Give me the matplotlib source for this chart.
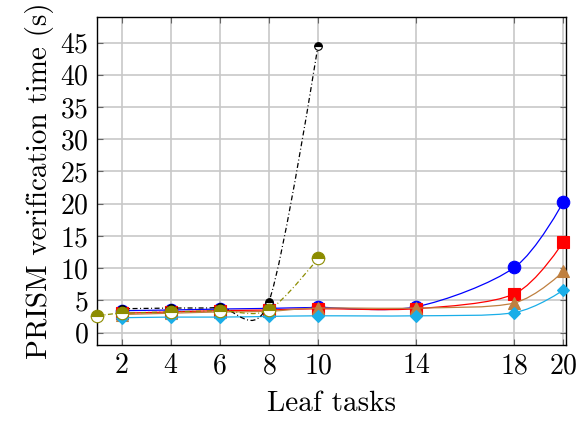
import matplotlib
matplotlib.use("Agg")
import matplotlib.pyplot as plt
from matplotlib.path import Path
from matplotlib.patches import PathPatch

plt.rcParams['font.family'] = 'cmr10'
plt.rcParams['mathtext.fontset'] = 'cm'
plt.rcParams['axes.formatter.use_mathtext'] = True

# leaf tasks and verification times (s)
x_tasks = [2, 4, 6, 8, 10, 14, 18, 20]
blue_t = [3.4, 3.5, 3.65, 3.75, 3.9, 4.0, 10.1, 20.3]
red_t = [3.0, 3.2, 3.4, 3.5, 3.7, 3.7, 6.0, 14.1]
brown_t = [2.8, 3.0, 3.2, 3.3, 3.8, 3.8, 4.6, 9.5]
cyan_t = [2.3, 2.4, 2.4, 2.5, 2.6, 2.6, 3.1, 6.6]

x_black = [2, 4, 6, 8, 10]
black_t = [3.7, 3.8, 3.9, 4.8, 44.5]

x_olive = [1, 2, 4, 6, 8, 10]
olive_t = [2.6, 3.0, 3.2, 3.4, 3.5, 11.5]

x_ticks = [2, 4, 6, 8, 10, 14, 18, 20]
y_ticks = [0, 5, 10, 15, 20, 25, 30, 35, 40, 45]


def smooth_path(xs, ys, f=0.15):
    # pgfplots-like "smooth" bezier through the points
    pts = list(zip(xs, ys))
    verts = [pts[0]]
    codes = [Path.MOVETO]
    n = len(pts)
    for i in range(n - 1):
        p0 = pts[i - 1] if i > 0 else pts[i]
        p1 = pts[i]
        p2 = pts[i + 1]
        p3 = pts[i + 2] if i + 2 < n else pts[i + 1]
        c1 = (p1[0] + f * (p2[0] - p0[0]), p1[1] + f * (p2[1] - p0[1]))
        c2 = (p2[0] - f * (p3[0] - p1[0]), p2[1] - f * (p3[1] - p1[1]))
        if i == 0:
            c1 = p1
        if i == n - 2:
            c2 = p2
        verts += [c1, c2, p2]
        codes += [Path.CURVE4] * 3
    return Path(verts, codes)


fig, ax = plt.subplots(figsize=(5.81, 4.21), dpi=100)
fig.subplots_adjust(left=0.167, right=0.974, top=0.960, bottom=0.181)

dashdot = (0, (4, 2, 0.8, 2))
series = [
    (x_tasks, blue_t, 'blue', 'o', 9, '-', 'full'),
    (x_tasks, red_t, 'red', 's', 8.5, '-', 'full'),
    (x_tasks, brown_t, '#bf8040', '^', 9, '-', 'full'),
    (x_tasks, cyan_t, '#1aaee8', 'D', 6.5, '-', 'full'),
    (x_black, black_t, 'black', 'o', 5.5, dashdot, 'top'),
    (x_olive, olive_t, '#8c8c00', 'o', 9, dashdot, 'top'),
]

for i, (xs, ys, col, mk, ms, ls, fs) in enumerate(series):
    patch = PathPatch(smooth_path(xs, ys), fill=False, edgecolor=col,
                      lw=0.9, linestyle=ls, zorder=3 + i)
    ax.add_patch(patch)
    ax.plot(xs, ys, linestyle='none', marker=mk, markersize=ms, color=col,
            markeredgecolor=col, fillstyle=fs, markerfacecoloralt='white',
            markeredgewidth=0.8, zorder=3 + i, clip_on=False)

ax.set_xlim(1, 20.1)
ax.set_ylim(-1.9, 49)
ax.set_xticks(x_ticks)
ax.set_yticks(y_ticks)
ax.grid(True, color='#c8c8c8', lw=1.2)
ax.set_axisbelow(True)
ax.tick_params(direction='in', length=4, width=0.8, color='#666666',
               top=True, right=True, labelsize=20, pad=6)
for sp in ax.spines.values():
    sp.set_linewidth(1.0)

ax.set_xlabel('Leaf tasks', fontsize=21, labelpad=8)
ax.set_ylabel('PRISM verification time (s)', fontsize=21, labelpad=4)

fig.savefig('out.png', dpi=100)
